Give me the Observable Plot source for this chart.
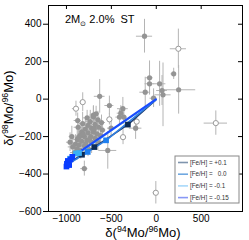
<!DOCTYPE html>
<html><head><meta charset="utf-8">
<script src="https://cdn.jsdelivr.net/npm/d3@7"></script>
<script src="https://cdn.jsdelivr.net/npm/@observablehq/plot@0.6"></script>
<style>body{margin:0;background:#fff}svg{display:block}</style>
</head><body><div id="chart"></div>
<script>
// ---- data ----
const xTicks = [-1000, -500, 0, 500];
const yTicks = [-600, -400, -200, 0, 200, 400];
const xDomain = [-1200, 960];
const yDomain = [-600, 500];

// filled grains outside the dense cluster: x, y, x error, y error
const filledX  = [-131, 194, 249, -75, -75, -123, 37, 64, 75, -30, -630, -522, -372, -410, -395, -670, -875, -503, -361, -230, -540, -801, -700];
const filledY  = [336, 135, 50, 114, 82, 37, 82, 46, 23, 5, 15, -34, -51, -96, -75, -78, -114, -155, -96, -155, -274, -371, -85];
const filledEx = [90, 30, 190, 40, 50, 60, 70, 60, 90, 40, 60, 50, 60, 40, 40, 40, 40, 40, 40, 70, 100, 40, 40];
const filledEy = [90, 30, 130, 90, 60, 80, 120, 80, 170, 50, 90, 50, 60, 40, 40, 40, 40, 40, 40, 60, 100, 40, 50];

// filled grains of the dense cluster
const clusterX = [-700, -650, -735, -610, -680, -760, -640, -720, -790, -600,
  -830, -700, -760, -660, -850, -800, -730, -680, -880, -770, -830, -720, -900, -860, -800, -760,
  -930, -880, -840, -910, -940, -960, -870, -820, -770, -620, -650, -745, -815, -690, -785, -865];
const clusterY = [-95, -110, -120, -125, -135, -140, -150, -155, -160, -165,
  -175, -175, -180, -185, -195, -200, -200, -210, -215, -220, -225, -230, -240, -245, -250, -262,
  -255, -265, -275, -285, -200, -230, -150, -130, -100, -195, -230, -215, -185, -160, -240, -205];
const clusterEx = [40, 35, 50, 45, 30, 40, 55, 35, 45, 40, 30, 45, 40, 50, 35, 40, 30, 45, 40, 35, 50,
  40, 35, 45, 30, 40, 50, 35, 40, 45, 30, 40, 45, 35, 40, 50, 35, 40, 45, 30, 40, 35];
const clusterEy = [55, 45, 60, 40, 50, 45, 55, 40, 60, 45, 50, 40, 55, 45, 60, 40, 50, 45, 55, 40, 45,
  60, 50, 40, 55, 45, 50, 60, 45, 40, 55, 50, 45, 60, 40, 50, 45, 55, 40, 50, 45, 55];

// open grains
const openX  = [246, -819, -894, -522, -370, -218, 663, -5];
const openY  = [269, -16, -51, -108, -203, -120, -128, -500];
const openEx = [90, 30, 40, 30, 30, 30, 130, 30];
const openEy = [105, 50, 40, 30, 40, 40, 65, 60];

// models
const modelFeh    = ["[Fe/H] = +0.1", "[Fe/H] =   0.0", "[Fe/H] = -0.1", "[Fe/H] = -0.15"];
const modelLine   = ["#1c3a6e", "#2f7fe0", "#66c0f5", "#1a4cff"];
const modelSquare = ["#0d2b55", "#1e7ff0", "#3ab0f5", "#0a3cff"];
const legendColor = ["#7f95ad", "#70a8e0", "#a8d8fa", "#8898f5"];
const modelX = [
  [-985, -827, -689, -316, -8],
  [-990, -763, -559, -6],
  [-960, -894, -860, -6],
  [-1000, -995, -985, -970, -955, -935, -4]
];
const modelY = [
  [-345, -297, -256, -136, -6],
  [-350, -282, -220, -4],
  [-318, -290, -288, -3],
  [-360, -345, -330, -352, -322, -308, -1]
];

(function () {
const filled = filledX.map((x, i) => ({x, y: filledY[i], ex: filledEx[i], ey: filledEy[i]}))
  .concat(clusterX.map((x, i) => ({x, y: clusterY[i], ex: clusterEx[i], ey: clusterEy[i]})));
const open = openX.map((x, i) => ({x, y: openY[i], ex: openEx[i], ey: openEy[i]}));
const grains = filled.concat(open);
const model = [];
const squares = [];
modelX.forEach((xs, s) => xs.forEach((x, i) => {
  const p = {x, y: modelY[s][i], s};
  model.push(p);
  if (i < xs.length - 1) squares.push(p);
}));

const xSpan = xDomain[1] - xDomain[0], ySpan = yDomain[1] - yDomain[0];
const font = "Liberation Sans, Arial, Helvetica, sans-serif";
const errColor = "#b4b4b4";
const fmt = d => d < 0 ? "\u2212" + (-d) : String(d);

const chart = Plot.plot({
  width: 249, height: 240,
  marginLeft: 48, marginRight: 7, marginTop: 5, marginBottom: 29,
  style: {fontFamily: font, fontSize: "10px", background: "#fff"},
  x: {domain: xDomain},
  y: {domain: yDomain},
  marks: [
    Plot.ruleY(grains, {y: "y", x1: d => d.x - d.ex, x2: d => d.x + d.ex, stroke: errColor, strokeWidth: 1}),
    Plot.ruleX(grains, {x: "x", y1: d => d.y - d.ey, y2: d => d.y + d.ey, stroke: errColor, strokeWidth: 1}),
    Plot.dot(filled, {x: "x", y: "y", r: 2.6, fill: "#949494", stroke: "none"}),
    Plot.dot(open, {x: "x", y: "y", r: 2.6, fill: "#fff", stroke: "#9a9a9a", strokeWidth: 1}),
    Plot.line(model, {x: "x", y: "y", z: "s", stroke: d => modelLine[d.s], strokeWidth: d => d.s === 3 ? 2.2 : 1.6}),
    Plot.dot(squares, {x: "x", y: "y", symbol: "square", r: 3.2, fill: d => modelSquare[d.s], stroke: "none"}),
    Plot.ruleX(xTicks, {x: d => d, y1: yDomain[1], y2: yDomain[1] - ySpan * 4 / 206, stroke: "#000"}),
    Plot.ruleY(yTicks, {y: d => d, x1: xDomain[1], x2: xDomain[1] - xSpan * 4 / 194, stroke: "#000"}),
    Plot.axisY({ticks: yTicks, tickSize: 5, tickPadding: 2, label: null, fontSize: 10, tickFormat: fmt, color: "#000"}),
    Plot.axisX({ticks: xTicks, tickSize: 0, tickPadding: 3, label: null, fontSize: 10, tickFormat: fmt, color: "#000"}),
    Plot.frame({stroke: "#000", strokeWidth: 1})
  ]
});
document.getElementById("chart").appendChild(chart);

const svg = d3.select(chart);
function rich(sel, parts, size) {
  let pending = 0;
  parts.forEach(([t, kind]) => {
    let shift = kind === "sup" ? -size * 0.4 : kind === "sub" ? size * 0.25 : 0;
    const fs = kind === "sup" ? size * 0.68 : kind === "sub" ? size * 0.62 : size;
    sel.append("tspan").attr("font-size", fs).attr("dy", pending + shift).text(t);
    pending = -shift;
  });
}
const fx = chart.scale("x"), fy = chart.scale("y");
const pLeft = fx.apply(xDomain[0]), pRight = fx.apply(xDomain[1]);
const pTop = fy.apply(yDomain[1]), pBottom = fy.apply(yDomain[0]);

const xl = svg.append("text").attr("font-family", font).attr("text-anchor", "middle")
  .attr("x", (pLeft + pRight) / 2 - 2).attr("y", 237).attr("fill", "#000");
rich(xl, [["δ("], ["94", "sup"], ["Mo/"], ["96", "sup"], ["Mo)"]], 13);
const yl = svg.append("text").attr("font-family", font).attr("text-anchor", "middle")
  .attr("transform", `translate(13,${(pTop + pBottom) / 2}) rotate(-90)`).attr("fill", "#000");
rich(yl, [["δ("], ["98", "sup"], ["Mo/"], ["96", "sup"], ["Mo)"]], 13);
const an = svg.append("text").attr("font-family", font).attr("text-anchor", "start")
  .attr("x", pLeft + 17).attr("y", pTop + 18).attr("fill", "#000").style("white-space", "pre");
rich(an, [["2M"], ["\u2299", "sub"], [" 2.0%  ST"]], 11);

const lg = svg.append("g").attr("font-family", font).attr("text-anchor", "start");
const bx = pRight - 67, by = pBottom - 55;
lg.append("rect").attr("x", bx).attr("y", by).attr("width", 64).attr("height", 47)
  .attr("fill", "#fff").attr("stroke", "#888").attr("stroke-width", 1);
modelFeh.forEach((lab, i) => {
  const yy = by + 6.5 + i * 11.7;
  lg.append("line").attr("x1", bx + 3).attr("x2", bx + 13).attr("y1", yy).attr("y2", yy)
    .attr("stroke", legendColor[i]).attr("stroke-width", 1.6);
  lg.append("text").attr("x", bx + 15).attr("y", yy + 2.2).attr("font-size", 6.3)
    .style("white-space", "pre").attr("fill", "#333").text(lab);
});
})();
</script></body></html>
